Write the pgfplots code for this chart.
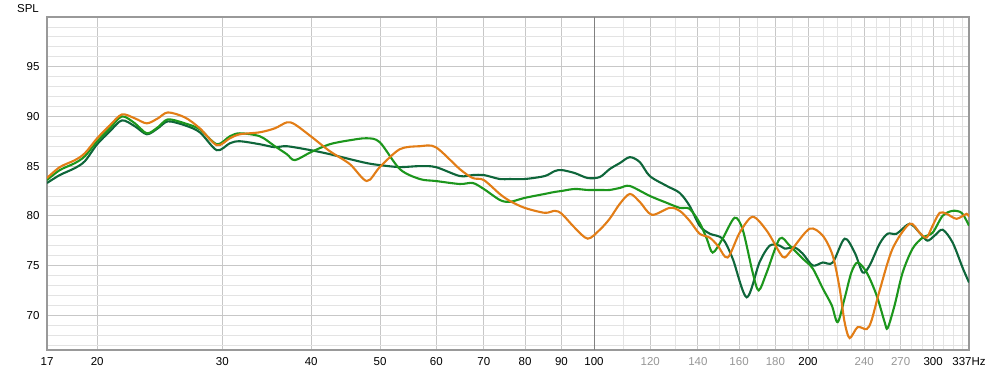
\documentclass[border=0pt]{standalone}
\usepackage{fontspec}
\setmainfont{Liberation Sans}
\usepackage{pgfplots}
\usepackage{pgfplotstable}
\pgfplotsset{compat=1.18}
\definecolor{cOrange}{RGB}{226,125,22}
\definecolor{cGreen}{RGB}{28,150,28}
\definecolor{cDark}{RGB}{14,102,58}
\definecolor{tickgrey}{RGB}{150,150,150}

\pgfplotstableread{
f db
17 83.8
17.72 84.9
18.61 85.6
19.22 86.3
20 87.8
20.84 89.1
21.67 90.2
22.6 89.8
23.49 89.3
24.34 89.8
25.15 90.4
26.57 89.9
27.89 88.8
29.47 87.1
30.74 87.8
31.75 88.2
33.87 88.4
35.56 88.8
36.97 89.4
37.94 89.2
39.96 88.0
42.49 86.5
45.34 85.2
47.9 83.5
49.96 84.9
53.31 86.7
56.87 87.0
59.9 86.9
64.74 84.7
67.52 83.8
69.97 83.6
73.69 82.2
76.11 81.5
79.9 80.8
85.25 80.3
88.06 80.5
90.08 80.2
93.94 78.8
97.98 77.7
101.9 78.6
105.2 79.7
108.7 81.2
112.3 82.2
116.0 81.4
120.6 80.1
127.8 80.8
132.0 80.5
136.3 79.5
140.8 78.2
145.5 77.8
149.3 77.0
154.2 75.8
160.3 78.3
167.2 79.9
175.0 78.5
182.5 76.3
185.5 75.8
190.3 76.7
201.1 78.7
209.8 78.0
216.7 76.0
221.6 72.7
225.2 69.3
228.9 67.7
234.9 68.8
241.9 68.6
245.8 69.5
252.3 72.5
263.1 76.7
278.0 79.2
287.1 78.3
293.7 77.8
299.5 79.0
306.4 80.3
313.4 80.2
323.7 79.7
334.4 80.2
337 79.9
}\orange

\pgfplotstableread{
f db
17 83.6
17.72 84.6
18.61 85.3
19.22 86.0
20 87.5
20.84 88.8
21.67 90.0
22.6 89.3
23.49 88.3
24.34 88.9
25.15 89.7
26.57 89.3
27.89 88.7
29.47 87.2
30.74 88.0
31.75 88.3
33.87 88.0
35.56 87.0
36.97 86.2
37.94 85.6
39.96 86.4
42.49 87.2
45.34 87.6
47.9 87.8
49.96 87.4
53.31 84.7
56.87 83.7
59.9 83.5
64.74 83.2
67.52 83.3
69.97 82.7
73.69 81.6
76.11 81.4
79.9 81.8
85.25 82.2
88.06 82.4
90.08 82.5
93.94 82.7
97.98 82.6
101.9 82.6
105.2 82.6
108.7 82.8
112.3 83.0
119.8 82.0
126.6 81.3
132.0 80.8
136.3 80.7
140.8 79.3
144.1 77.7
146.9 76.3
151.7 77.7
157.7 79.8
161.9 78.6
167.2 74.3
170.5 72.5
175.0 74.3
182.5 77.7
188.5 77.0
196.6 75.7
203.1 74.7
209.8 72.7
216.0 71.0
220.2 69.3
225.2 71.7
230.2 74.3
234.9 75.3
241.9 74.3
249.8 72.0
256.4 69.3
258.9 68.7
264.8 71.0
271.8 74.3
280.7 76.7
289.9 77.8
299.5 78.3
309.4 80.0
319.6 80.5
329.0 80.3
335.5 79.3
337 79.0
}\green

\pgfplotstableread{
f db
17 83.3
17.72 84.1
18.61 84.8
19.22 85.5
20 87.2
20.84 88.5
21.67 89.6
22.6 89.0
23.49 88.2
24.34 88.8
25.15 89.5
26.57 89.1
27.89 88.4
29.47 86.6
30.74 87.3
31.75 87.5
33.87 87.2
35.56 86.9
36.97 87.0
39.96 86.6
42.49 86.2
45.34 85.7
47.9 85.3
49.96 85.1
53.31 84.9
56.87 85.0
59.9 84.9
64.74 84.0
67.52 84.1
69.97 84.1
73.69 83.7
76.11 83.7
79.9 83.7
85.25 84.0
88.06 84.5
90.08 84.6
93.94 84.3
97.98 83.8
101.9 83.9
105.2 84.7
108.7 85.3
112.3 85.9
116.0 85.4
119.8 84.0
126.6 83.0
132.0 82.3
136.3 81.0
140.8 79.0
145.5 78.2
151.7 77.7
156.7 75.7
164.0 71.8
170.9 75.3
176.7 77.0
182.5 77.0
185.5 76.7
191.6 76.8
196.6 76.2
203.1 75.0
209.8 75.3
216.7 75.3
225.2 77.7
232.7 76.3
238.8 74.3
244.2 75.0
252.3 77.2
258.9 78.2
266.6 78.2
278.0 79.2
287.1 78.3
294.4 77.5
301.4 78.0
309.4 78.6
319.6 77.3
330.4 74.7
337 73.3
}\dark

\begin{document}
\begin{tikzpicture}
\useasboundingbox (0,0) rectangle (990pt,374pt);
\begin{axis}[
  at={(47pt,24pt)}, anchor=south west,
  scale only axis, width=922pt, height=333pt,
  xmode=log, xmin=17, xmax=337, ymin=66.5, ymax=100,
  xtick={17,20,30,40,50,60,70,80,90,100,120,140,160,180,200,240,270,300,337},
  xticklabels={17,20,30,40,50,60,70,80,90,100,
    \textcolor{tickgrey}{120},\textcolor{tickgrey}{140},\textcolor{tickgrey}{160},\textcolor{tickgrey}{180},
    200,\textcolor{tickgrey}{240},\textcolor{tickgrey}{270},300,337Hz},
  minor xtick={110,130,150,170,190,210,220,230,250,260,280,290,310,320,330},
  ytick={70,75,80,85,90,95},
  minor ytick={67,68,69,71,72,73,74,76,77,78,79,81,82,83,84,86,87,88,89,91,92,93,94,96,97,98,99},
  extra x ticks={100}, extra x tick labels={},
  extra x tick style={major grid style={draw=black!50, line width=0.8pt}},
  grid=both,
  major grid style={draw=black!22, line width=0.8pt},
  minor grid style={draw=black!11, line width=0.8pt},
  tick style={draw=none},
  axis line style={draw=black!40, line width=1.2pt},
  ticklabel style={font=\fontsize{11.5}{12}\selectfont},
  /pgf/number format/assume math mode=true,
  xticklabel style={yshift=-4pt},
  yticklabel style={xshift=-4pt},
  clip=true,
]
\addplot[cDark, line width=2.1pt, smooth, tension=0.5] table[x=f,y=db] {\dark};
\addplot[cGreen, line width=2.1pt, smooth, tension=0.5] table[x=f,y=db] {\green};
\addplot[cOrange, line width=2.1pt, smooth, tension=0.5] table[x=f,y=db] {\orange};
\end{axis}
\node[font=\fontsize{11.5}{12}\selectfont] at (28pt,365.5pt) {SPL};
\end{tikzpicture}
\end{document}
